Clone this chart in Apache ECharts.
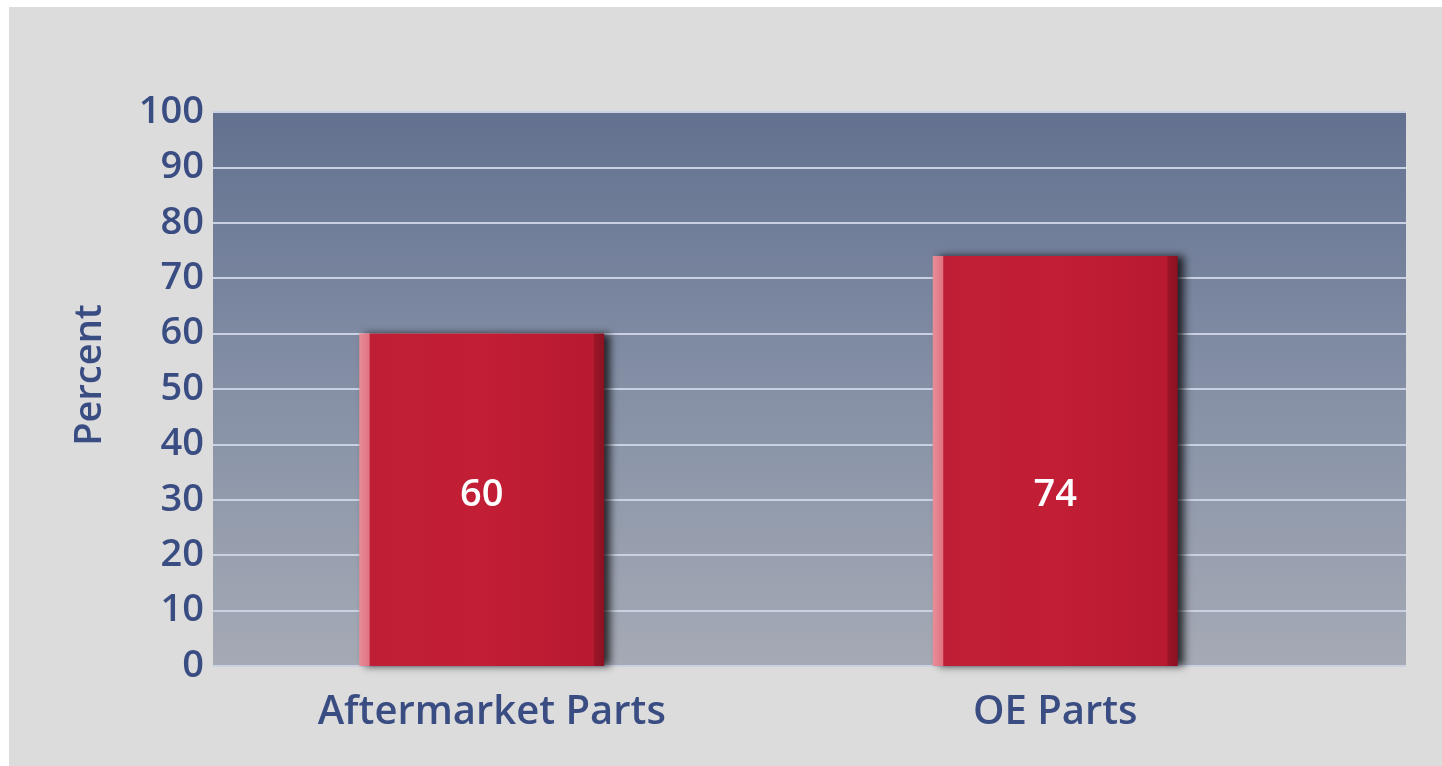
<!DOCTYPE html>
<html>
<head>
<meta charset="utf-8">
<script src="https://cdn.jsdelivr.net/npm/echarts@6/dist/echarts.min.js"></script>
<style>
  html, body { margin: 0; padding: 0; background: #ffffff; width: 1442px; height: 766px; overflow: hidden; }
  #chart { position: absolute; left: 9px; top: 7px; width: 1433px; height: 759px; background: #dcdcdc; }
</style>
</head>
<body>
<div id="chart"></div>
<script>
// Share of parts, by type
const categories = ['Aftermarket Parts', 'OE Parts'];
const percentValues = [60, 74];
const yTicks = [0, 10, 20, 30, 40, 50, 60, 70, 80, 90, 100];

const textBlue = '#3a4d83';
const fontFamily = '"Open Sans", "DejaVu Sans", sans-serif';

const chart = echarts.init(document.getElementById('chart'), null, { renderer: 'canvas' });

const barFill = new echarts.graphic.LinearGradient(0, 0, 1, 0, [
  { offset: 0, color: '#e88e98' },
  { offset: 0.04, color: '#e07483' },
  { offset: 0.045, color: '#bf1f36' },
  { offset: 0.5, color: '#c21e36' },
  { offset: 0.955, color: '#b81a31' },
  { offset: 0.96, color: '#9b1527' },
  { offset: 1, color: '#8a1222' }
]);

chart.setOption({
  animation: false,
  grid: [
    {
      // backdrop panel with the value scale
      left: 204, right: 36, top: 105, bottom: 100,
      show: true,
      borderWidth: 0,
      backgroundColor: new echarts.graphic.LinearGradient(0, 0, 0, 1, [
        { offset: 0, color: '#637190' },
        { offset: 0.5, color: '#8590a6' },
        { offset: 1, color: '#a5aab5' }
      ])
    },
    {
      // bars sit in their own band layout
      left: 186, right: 100, top: 105, bottom: 100
    }
  ],
  xAxis: [
    { type: 'category', gridIndex: 0, data: categories, show: false },
    {
      type: 'category', gridIndex: 1, data: categories,
      axisLine: { show: false }, axisTick: { show: false },
      axisLabel: {
        interval: 0,
        color: textBlue, fontSize: 40, fontWeight: 600, fontFamily: fontFamily, margin: 27,
        formatter: (v, i) => i === 0 ? '{first|' + v + '}' : v,
        rich: {
          first: { color: textBlue, fontSize: 40, fontWeight: 600, fontFamily: fontFamily, padding: [0, 0, 0, 20] }
        }
      }
    }
  ],
  yAxis: [
    {
      type: 'value', gridIndex: 0, min: yTicks[0], max: yTicks[yTicks.length - 1], interval: 10,
      name: 'Percent', nameLocation: 'middle', nameRotate: 90, nameGap: 104,
      nameTextStyle: { color: textBlue, fontSize: 38, fontWeight: 600, fontFamily: fontFamily, padding: [0, 0, 0, 28] },
      axisLine: { show: false }, axisTick: { show: false },
      axisLabel: {
        color: textBlue, fontSize: 38, fontWeight: 600, fontFamily: fontFamily, margin: 9,
        formatter: v => yTicks.includes(v) ? String(v) : ''
      },
      splitLine: { show: true, lineStyle: { color: '#c9d1e2', width: 2 } }
    },
    {
      type: 'value', gridIndex: 1, min: 0, max: 100, interval: 10, show: false,
      splitLine: { show: false }
    }
  ],
  series: [
    {
      type: 'bar',
      xAxisIndex: 1, yAxisIndex: 1,
      data: percentValues,
      barWidth: 245,
      itemStyle: {
        color: barFill,
        shadowColor: 'rgba(0, 0, 0, 0.75)',
        shadowBlur: 8,
        shadowOffsetX: 6,
        shadowOffsetY: 0
      },
      label: {
        show: true,
        position: 'insideBottom',
        distance: 152,
        color: '#ffffff',
        fontSize: 38,
        fontWeight: 600,
        fontFamily: fontFamily
      }
    }
  ]
});
</script>
</body>
</html>
